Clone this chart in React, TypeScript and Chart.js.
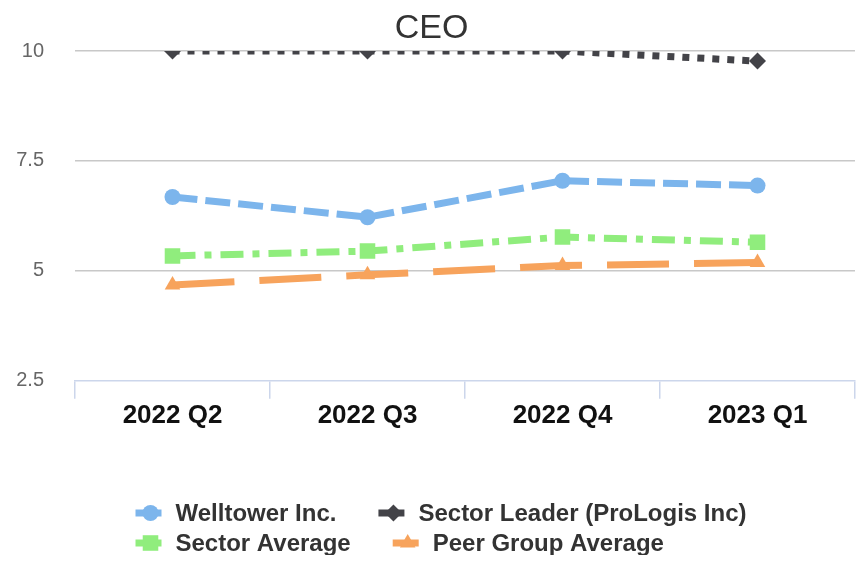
import React, { useEffect, useRef } from "react";
import { Chart, registerables } from "chart.js";

Chart.register(...registerables);

const categories = ["2022 Q2", "2022 Q3", "2022 Q4", "2023 Q1"];
const welltower = [6.68, 6.22, 7.05, 6.94];
const sectorLeader = [10, 10, 10, 9.77];
const sectorAverage = [5.34, 5.45, 5.77, 5.65];
const peerGroupAverage = [4.68, 4.91, 5.12, 5.19];
const yTicks = [2.5, 5, 7.5, 10];

const FONT = '"Liberation Sans", Arial, sans-serif';

function drawMarker(ctx: CanvasRenderingContext2D, style: string, x: number, y: number, r: number) {
  ctx.beginPath();
  if (style === "circle") {
    ctx.arc(x, y, r, 0, Math.PI * 2);
  } else if (style === "rect") {
    const s = r * Math.SQRT1_2;
    ctx.rect(x - s, y - s, 2 * s, 2 * s);
  } else if (style === "rectRot") {
    ctx.moveTo(x, y - r);
    ctx.lineTo(x + r, y);
    ctx.lineTo(x, y + r);
    ctx.lineTo(x - r, y);
    ctx.closePath();
  } else if (style === "triangle") {
    ctx.moveTo(x, y - r);
    ctx.lineTo(x + r * Math.sin(Math.PI / 3), y + r * 0.5);
    ctx.lineTo(x - r * Math.sin(Math.PI / 3), y + r * 0.5);
    ctx.closePath();
  }
  ctx.fill();
}

const customLegend = {
  id: "customLegend",
  afterDraw(chart: any) {
    const ctx: CanvasRenderingContext2D = chart.ctx;
    ctx.save();
    ctx.font = `bold 24px ${FONT}`;
    const symW = 40;
    const gap = 42;
    const maxRow = 650;
    const items = chart.data.datasets.map((ds: any) => ({
      ds,
      w: symW + ctx.measureText(ds.label).width,
    }));
    const rows: any[][] = [];
    let cur: any[] = [];
    let curW = 0;
    items.forEach((it: any) => {
      const add = cur.length ? gap + it.w : it.w;
      if (cur.length && curW + add > maxRow) {
        rows.push(cur);
        cur = [it];
        curW = it.w;
      } else {
        cur.push(it);
        curW += add;
      }
    });
    if (cur.length) rows.push(cur);
    const rowWidths = rows.map((r) => r.reduce((s, it, i) => s + it.w + (i ? gap : 0), 0));
    const widest = Math.max(...rowWidths);
    const left = (chart.width - widest) / 2 + 8;
    const firstY = 505;
    const rowH = 30;
    rows.forEach((row, ri) => {
      let x = left;
      const y = firstY + ri * rowH;
      row.forEach((it: any) => {
        const ds = it.ds;
        ctx.strokeStyle = ds.borderColor;
        ctx.fillStyle = ds.borderColor;
        ctx.lineWidth = 7;
        ctx.setLineDash([]);
        ctx.beginPath();
        ctx.moveTo(x, y);
        ctx.lineTo(x + 26, y);
        ctx.stroke();
        drawMarker(ctx, ds.pointStyle, x + 15, y, ds.pointRadius);
        ctx.fillStyle = "#333333";
        ctx.textAlign = "left";
        ctx.textBaseline = "middle";
        ctx.fillText(ds.label, x + symW, y + 1);
        x += it.w + gap;
      });
    });
    ctx.restore();
  },
};

export default function App() {
  const ref = useRef<HTMLCanvasElement | null>(null);
  useEffect(() => {
    if (!ref.current) return;
    const chart = new Chart(ref.current, {
      type: "line",
      data: {
        labels: categories,
        datasets: [
          {
            label: "Welltower Inc.",
            data: welltower,
            borderColor: "#7cb5ec",
            backgroundColor: "#7cb5ec",
            borderWidth: 7,
            borderDash: [25, 8],
            pointStyle: "circle",
            pointRadius: 8,
            pointBorderWidth: 0,
            pointBackgroundColor: "#7cb5ec",
          },
          {
            label: "Sector Leader (ProLogis Inc)",
            data: sectorLeader,
            borderColor: "#434348",
            backgroundColor: "#434348",
            borderWidth: 7,
            borderDash: [7, 8],
            pointStyle: "rectRot",
            pointRadius: 8.5,
            pointBorderWidth: 0,
            pointBackgroundColor: "#434348",
          },
          {
            label: "Sector Average",
            data: sectorAverage,
            borderColor: "#90ed7d",
            backgroundColor: "#90ed7d",
            borderWidth: 7,
            borderDash: [23, 9, 7, 9],
            pointStyle: "rect",
            pointRadius: 11,
            pointBorderWidth: 0,
            pointBackgroundColor: "#90ed7d",
          },
          {
            label: "Peer Group Average",
            data: peerGroupAverage,
            borderColor: "#f7a35c",
            backgroundColor: "#f7a35c",
            borderWidth: 7,
            borderDash: [62, 25],
            pointStyle: "triangle",
            pointRadius: 9,
            pointBorderWidth: 0,
            pointBackgroundColor: "#f7a35c",
          },
        ],
      },
      options: {
        responsive: false,
        animation: false,
        devicePixelRatio: 1,
        layout: { autoPadding: false, padding: { left: 0, right: 3, top: 0, bottom: 123 } },
        plugins: {
          legend: { display: false },
          tooltip: { enabled: false },
          title: {
            display: true,
            text: "CEO",
            color: "#333333",
            font: { family: FONT, size: 34, weight: "normal", lineHeight: 1 },
            padding: { top: 2, bottom: 5 },
          },
        },
        scales: {
          x: {
            offset: true,
            afterFit: (scale: any) => {
              scale.paddingLeft = 0;
              scale.paddingRight = 0;
            },
            grid: {
              display: true,
              offset: true,
              drawOnChartArea: false,
              drawTicks: true,
              tickLength: 18,
              color: "#ccd6eb",
              lineWidth: 1.5,
            },
            border: { display: true, color: "#ccd6eb", width: 1.5 },
            ticks: {
              color: "#111111",
              font: { family: FONT, size: 26, weight: "bold" },
              padding: 1,
              maxRotation: 0,
            },
          },
          y: {
            min: 2.5,
            max: 10,
            afterFit: (scale: any) => {
              scale.width = 67;
            },
            afterBuildTicks: (scale: any) => {
              scale.ticks = yTicks.map((v) => ({ value: v }));
            },
            grid: {
              drawTicks: false,
              color: (c: any) => (c.tick && c.tick.value === 2.5 ? "rgba(0,0,0,0)" : "#c8c8c8"),
              lineWidth: 1.5,
            },
            border: { display: false },
            ticks: {
              color: "#666666",
              font: { family: FONT, size: 20 },
              padding: 31,
              callback: (v: any) => String(v),
            },
          },
        },
      },
      plugins: [customLegend],
    });
    return () => chart.destroy();
  }, []);
  return <canvas ref={ref} width={850} height={547} style={{ display: "block" }} />;
}
